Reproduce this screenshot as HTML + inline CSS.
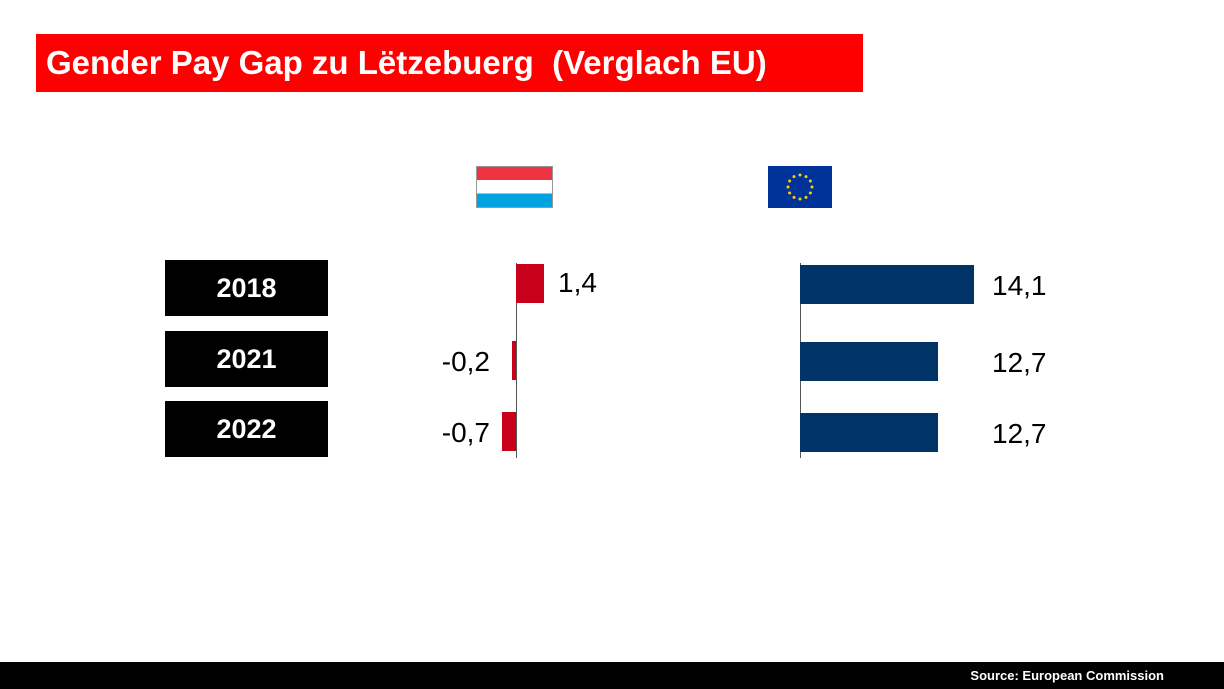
<!DOCTYPE html>
<html><head><meta charset="utf-8"><style>
body{margin:0;width:1224px;height:689px;background:#fff;position:relative;overflow:hidden;font-family:"Liberation Sans",sans-serif}
.abs{position:absolute}
.title{left:36px;top:34px;width:827px;height:58px;background:#ff0000;color:#fff;font-weight:bold;font-size:33px;line-height:58px;box-sizing:border-box;padding-left:10px;white-space:pre}
.yr{left:165px;width:163px;height:56px;background:#000;color:#fff;font-weight:bold;font-size:27px;line-height:56px;text-align:center}
.footer{left:0;top:662px;width:1224px;height:27px;background:#000;color:#fff;font-weight:bold;font-size:13px;line-height:27px;text-align:right;box-sizing:border-box;padding-right:60px}
.val{font-size:28px;color:#000;line-height:40px}
</style></head><body>
<div class="abs title">Gender Pay Gap zu Lëtzebuerg  (Verglach EU)</div>
<div class="abs" style="left:476px;top:166px;width:77px;height:42px;border:1px solid #999;box-sizing:border-box;background:linear-gradient(#ef3340 0 33%,#fff 33% 66%,#00a3e0 66%)"></div>
<svg class="abs" style="left:768px;top:166px" width="64" height="42"><rect width="64" height="42" fill="#003399"/><g id="st" fill="#ffcc00"></g></svg>
<div class="abs yr" style="top:260px">2018</div>
<div class="abs yr" style="top:331px">2021</div>
<div class="abs yr" style="top:401px">2022</div>
<div id="chart"></div>
<div class="abs footer">Source: European Commission</div>
<script>
const years=["2018","2021","2022"];
const luValues=[1.4,-0.2,-0.7];
const euValues=[14.1,12.7,12.7];
const labelsLU=["1,4","-0,2","-0,7"];
const labelsEU=["14,1","12,7","12,7"];
const rowTop=[264,341,412];
const barH=39;
const luAxis=516, luScale=20;
const euAxis=800, euMin=7.3, euScale=25.6;
const xLU=v=>luAxis+v*luScale;
const xEU=v=>euAxis+(v-euMin)*euScale;
const c=document.getElementById('chart');
const g=document.getElementById('st');
for(let i=0;i<12;i++){const a=i*Math.PI/6;const t=document.createElementNS('http://www.w3.org/2000/svg','circle');t.setAttribute('cx',32+12*Math.cos(a));t.setAttribute('cy',21+12*Math.sin(a));t.setAttribute('r',1.5);


g.appendChild(t);}
function div(style){const d=document.createElement('div');d.className='abs';d.style.cssText=style;c.appendChild(d);return d;}
let a1=div(`left:${luAxis}px;top:263px;width:1px;height:195px;background:#555`);


let a2=div(`left:${euAxis}px;top:263px;width:1px;height:195px;background:#555`);


years.forEach((y,i)=>{
 const v=luValues[i];const x0=Math.min(xLU(0),xLU(v)),w=Math.abs(xLU(v)-xLU(0));
 const b=div(`left:${x0}px;top:${rowTop[i]}px;width:${w}px;height:${barH}px;background:#c8001a`);
 
 
 const l=div(v>=0?`left:${xLU(v)+14}px;top:${rowTop[i]-1}px`:`left:${luAxis-26-80}px;width:80px;text-align:right;top:${rowTop[i]+1}px`);
 l.className='abs val';l.textContent=labelsLU[i];
 
 
 const e=euValues[i];
 const b2=div(`left:${euAxis}px;top:${rowTop[i]+1}px;width:${xEU(e)-euAxis}px;height:${barH}px;background:#003366`);
 
 
 const l2=div(`left:992px;top:${rowTop[i]+2}px`);
 l2.className='abs val';l2.textContent=labelsEU[i];
 
 
});
</script>
</body></html>
